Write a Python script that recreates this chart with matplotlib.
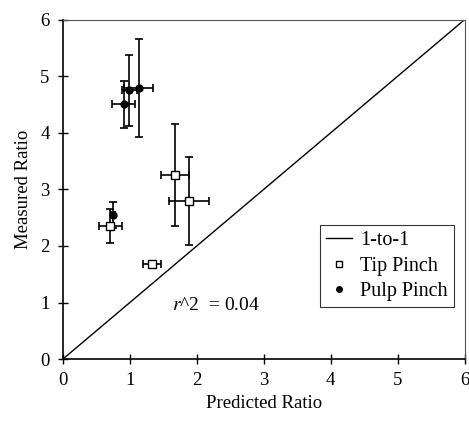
import matplotlib
matplotlib.use("Agg")
import matplotlib.pyplot as plt
import numpy as np

plt.rcParams["font.family"] = ["Liberation Serif", "DejaVu Serif"]
plt.rcParams["mathtext.fontset"] = "stix"

# tip pinch: predicted, measured and their error bars
tip_x = [0.71, 1.68, 1.88, 1.33]
tip_y = [2.35, 3.26, 2.79, 1.68]
tip_xerr = [0.17, 0.21, 0.30, 0.14]
tip_yerr = [0.30, 0.90, 0.78, 0.06]

# pulp pinch
pulp_x = [0.91, 0.99, 1.13, 0.75]
pulp_y = [4.50, 4.75, 4.79, 2.54]
pulp_xerr = [0.17, 0.11, 0.21, 0.03]
pulp_yerr = [0.41, 0.63, 0.86, 0.23]

line_x = [0, 6]
line_y = [0, 6]
r2_text = "0.04"

fig = plt.figure(figsize=(4.69, 4.24), dpi=100)
ax = fig.add_axes([0.134, 0.153, 0.857, 0.801])

ax.plot(line_x, line_y, color="black", lw=1.0)

ax.errorbar(pulp_x, pulp_y, xerr=pulp_xerr, yerr=pulp_yerr, fmt="o",
            color="black", ms=5, ecolor="black", elinewidth=1.2,
            capsize=3, capthick=1.2, zorder=3)
ax.errorbar(tip_x, tip_y, xerr=tip_xerr, yerr=tip_yerr, fmt="s",
            mfc="white", mec="black", ms=6, ecolor="black", elinewidth=1.2,
            capsize=3, capthick=1.2, zorder=4)

# legend handles (small markers)
h_line, = ax.plot([], [], color="black", lw=1.0, label="1-to-1")
h_tip, = ax.plot([], [], "s", mfc="white", mec="black", ms=4, mew=1.0,
                 label="Tip Pinch")
h_pulp, = ax.plot([], [], "o", color="black", ms=4, label="Pulp Pinch")
leg = ax.legend(handles=[h_line, h_tip, h_pulp], loc="upper left",
                bbox_to_anchor=(0.64, 0.394), bbox_transform=ax.transAxes,
                fontsize=14.5, frameon=True, fancybox=False, edgecolor="black",
                handlelength=1.3, handletextpad=0.4, borderpad=0.3,
                labelspacing=0.3, borderaxespad=0.0)
leg.get_frame().set_linewidth(0.8)

ax.text(1.63, 0.95, r"$r$^2  = " + r2_text, fontsize=14, va="center", ha="left")

ax.set_xlim(0, 6)
ax.set_ylim(0, 6)
ax.set_xticks(range(7))
ax.set_yticks(range(7))
ax.tick_params(direction="inout", length=7, width=1, labelsize=13.5, pad=6)
ax.set_xlabel("Predicted Ratio", fontsize=13.5, labelpad=4)
ax.set_ylabel("Measured Ratio", fontsize=13.5, labelpad=6)

for side in ["left", "bottom"]:
    ax.spines[side].set_linewidth(1.2)
for side in ["top", "right"]:
    ax.spines[side].set_linewidth(0.8)
    ax.spines[side].set_color("#555555")
    ax.spines[side].set_linestyle((0, (2, 1)))

fig.savefig("out.png", dpi=100)
